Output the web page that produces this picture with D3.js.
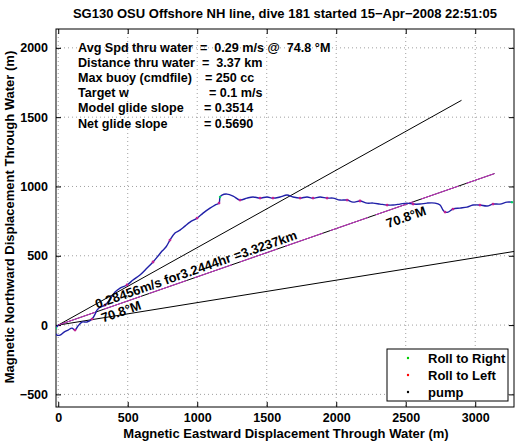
<!DOCTYPE html>
<html><head><meta charset="utf-8">
<script src="https://cdn.jsdelivr.net/npm/d3@7"></script>
<style>
body{margin:0;background:#fff;}
text{font-family:"Liberation Sans",Arial,Helvetica,sans-serif;font-weight:bold;fill:#000;}
</style></head>
<body><svg id="c" width="522" height="442"></svg>
<script>
// ---- data ----
const titleText = "SG130 OSU Offshore NH line, dive 181 started 15\u2212Apr\u22122008 22:51:05";
const xLabel = "Magnetic Eastward Displacement Through Water (m)";
const yLabel = "Magnetic Northward Displacement Through Water (m)";
const xTicks = [0, 500, 1000, 1500, 2000, 2500, 3000];
const yTicks = [-500, 0, 500, 1000, 1500, 2000];
const trackX = [0,-16,-23,-9,13,42,71,99,121,142,171,207,243,265,279,301,337,373,409,445,495,538,588,639,682,718,747,775,804,840,876,912,948,999,1042,1092,1128,1157,1164,1178,1214,1258,1308,1358,1401,1452,1502,1545,1596,1646,1689,1740,1790,1833,1884,1934,1977,2027,2078,2121,2171,2222,2265,2315,2366,2409,2459,2509,2553,2603,2653,2711,2747,2768,2783,2804,2840,2890,2941,2984,3034,3085,3128,3178,3228,3264];
const trackY = [0,-22,-51,-72,-72,-51,-36,-22,-36,-7,22,22,43,79,108,130,144,188,238,267,289,325,361,411,455,498,534,563,613,664,685,714,743,772,808,844,866,880,924,938,945,931,902,916,924,916,924,916,924,938,924,916,924,916,924,916,916,902,902,887,895,880,880,873,866,866,873,880,873,873,880,880,866,830,815,815,837,844,851,866,866,859,873,873,887,887];
const rollLeftIdx = [8,12,16,20,24,28,33,37,42,45,47,51,53,55,58,60,64,68,74,76,80,82];
const rollRightIdx = [1,2,38,85];
const headingLines = [60.8, 70.8, 80.8];   // deg magnetic
const lineLengthKm = 3.3237;
const courseHeading = 70.8;
const statLabels = ["Avg Spd thru water","Distance thru water","Max buoy (cmdfile)","Target w","Model glide slope","Net glide slope"];
const statValues = ["=  0.29 m/s @  74.8 \u00b0M","=  3.37 km","= 250 cc","= 0.1 m/s","= 0.3514","= 0.5690"];
const annotText = ["0.28456m/s for3.2444hr =3.3237km","70.8\u00b0M","70.8\u00b0M"];
const legendLabels = ["Roll to Right","Roll to Left","pump"];
const legendColors = ["#00cc00","#ff0000","#000000"];

// ---- layout ----
const L=56, R=514, T=29, B=407;
const FS = 13;
const x = d3.scaleLinear().domain([-16,3279]).range([L,R]);
const y = d3.scaleLinear().domain([-591,2136]).range([B,T]);
const svg = d3.select("#c");

svg.append("text").attr("x",285).attr("y",18).attr("text-anchor","middle").attr("font-size",FS).text(titleText);

svg.append("defs").append("clipPath").attr("id","clip").append("rect").attr("x",L).attr("y",T).attr("width",R-L).attr("height",B-T);

// grid
const grid = svg.append("g").attr("stroke","#888").attr("stroke-width",0.8).attr("stroke-dasharray","1,3");
xTicks.forEach(t=>grid.append("line").attr("x1",x(t)).attr("x2",x(t)).attr("y1",T).attr("y2",B));
yTicks.forEach(t=>grid.append("line").attr("y1",y(t)).attr("y2",y(t)).attr("x1",L).attr("x2",R));

// axes
const fmt = d3.format("d");
const xa = svg.append("g").attr("transform",`translate(0,${B})`).call(d3.axisBottom(x).tickValues(xTicks).tickFormat(fmt).tickSizeInner(-5).tickSizeOuter(0).tickPadding(6));
const xt = svg.append("g").attr("transform",`translate(0,${T})`).call(d3.axisTop(x).tickValues(xTicks).tickSizeInner(-5).tickSizeOuter(0).tickFormat(""));
const ya = svg.append("g").attr("transform",`translate(${L},0)`).call(d3.axisLeft(y).tickValues(yTicks).tickFormat(fmt).tickSizeInner(-5).tickSizeOuter(0).tickPadding(8));
const yr = svg.append("g").attr("transform",`translate(${R},0)`).call(d3.axisRight(y).tickValues(yTicks).tickSizeInner(-5).tickSizeOuter(0).tickFormat(""));
[xa,xt,ya,yr].forEach(g=>{g.select(".domain").remove();g.selectAll("line").attr("stroke","#000");g.selectAll("text").attr("font-size",12.5).attr("font-family",null).style("font-weight","bold");});
svg.append("rect").attr("x",L).attr("y",T).attr("width",R-L).attr("height",B-T).attr("fill","none").attr("stroke","#000");

svg.append("text").attr("x",286).attr("y",438).attr("text-anchor","middle").attr("font-size",FS).text(xLabel);
svg.append("text").attr("transform","translate(14,217) rotate(-90)").attr("text-anchor","middle").attr("font-size",FS).text(yLabel);

const plot = svg.append("g").attr("clip-path","url(#clip)");
// heading lines
const Lm = lineLengthKm*1000;
headingLines.forEach(h=>{
  const r = h*Math.PI/180;
  plot.append("line").attr("x1",x(0)).attr("y1",y(0)).attr("x2",x(Lm*Math.sin(r))).attr("y2",y(Lm*Math.cos(r))).attr("stroke","#000").attr("stroke-width",1);
});
{
  const r = courseHeading*Math.PI/180;
  plot.append("line").attr("x1",x(0)).attr("y1",y(0)).attr("x2",x(Lm*Math.sin(r))).attr("y2",y(Lm*Math.cos(r))).attr("stroke","#cc33cc").attr("stroke-width",1).attr("stroke-dasharray","40,8");
}
// track
const pts = trackX.map((v,i)=>[v,trackY[i]]);
plot.append("path").datum(pts).attr("fill","none").attr("stroke","#2020a8").attr("stroke-width",1.4)
  .attr("d",d3.line().x(d=>x(d[0])).y(d=>y(d[1])).curve(d3.curveCatmullRom));
plot.selectAll(".rl").data(rollLeftIdx).join("circle").attr("cx",i=>x(trackX[i])).attr("cy",i=>y(trackY[i])).attr("r",1.4).attr("fill","#c02090");
plot.selectAll(".rr").data(rollRightIdx).join("circle").attr("cx",i=>x(trackX[i])).attr("cy",i=>y(trackY[i])).attr("r",1.2).attr("fill","#00cc66");

// annotations (data-coordinate anchors)
const rot = -(90-courseHeading);
const annotPos = [[279,118],[322,18],[2373,700]];
annotText.forEach((t,i)=>{
  svg.append("text").attr("transform",`translate(${x(annotPos[i][0])},${y(annotPos[i][1])}) rotate(${rot})`).attr("font-size",FS).text(t);
});

// stats block
const eqX = [200,202,205,209,204,204];
statLabels.forEach((s,i)=>{
  const by = 51.5 + i*15.2;
  svg.append("text").attr("x",78).attr("y",by).attr("font-size",12.6).text(s);
  svg.append("text").attr("x",eqX[i]).attr("y",by).attr("font-size",12.6).style("white-space","pre").text(statValues[i]);
});

// legend
const lg = svg.append("g");
lg.append("rect").attr("x",387).attr("y",349).attr("width",121).attr("height",52).attr("fill","#fff").attr("stroke","#000");
legendLabels.forEach((s,i)=>{
  const cy = 358 + i*17;
  lg.append("circle").attr("cx",408).attr("cy",cy).attr("r",1.2).attr("fill",legendColors[i]);
  lg.append("text").attr("x",428).attr("y",cy+4.5).attr("font-size",FS).text(s);
});
</script></body></html>
